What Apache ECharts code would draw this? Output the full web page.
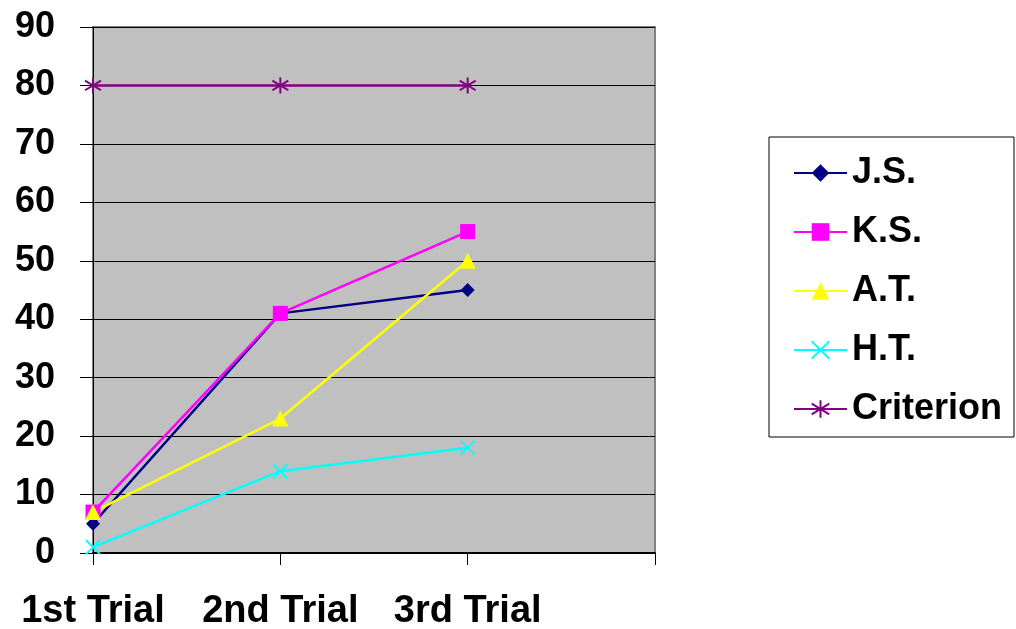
<!DOCTYPE html>
<html>
<head>
<meta charset="utf-8">
<script src="https://cdn.jsdelivr.net/npm/echarts@6/dist/echarts.min.js"></script>
<style>
  html, body { margin: 0; padding: 0; background: #fff; }
  #chart { width: 1016px; height: 629px; }
</style>
</head>
<body>
<div id="chart"></div>
<script>
// trials; the 4th slot is empty, it only carries the last tick
const trials = ["1st Trial", "2nd Trial", "3rd Trial", ""];
const yTicks = { min: 0, max: 90, step: 10 };

const js = [5, 41, 45];
const ks = [7, 41, 55];
const at = [7, 23, 50];
const ht = [1, 14, 18];
const criterion = [80, 80, 80];

const FONT = '"Liberation Sans", Arial, sans-serif';

const chart = echarts.init(document.getElementById("chart"));

function lineSeries(name, data, color, symbol, size, stroked) {
  return {
    name,
    type: "line",
    data,
    symbol,
    symbolSize: size,
    showSymbol: true,
    lineStyle: { color, width: 2.5 },
    itemStyle: stroked
      ? { color: "none", borderColor: color, borderWidth: 2 }
      : { color, borderWidth: 0 },
    emphasis: { disabled: true },
    z: 3,
  };
}

chart.setOption({
  animation: false,
  grid: {
    left: 93, top: 27, right: 361, bottom: 76,
    outerBoundsMode: "none",
    show: true,
    backgroundColor: "#C0C0C0",
    borderColor: "#808080",
    borderWidth: 2,
  },
  xAxis: {
    type: "category",
    data: trials,
    boundaryGap: false,
    axisLine: { lineStyle: { color: "#000", width: 2 } },
    axisTick: { show: true, length: 12, interval: 0, lineStyle: { color: "#000" } },
    axisLabel: {
      interval: 0, margin: 40, fontSize: 38, fontWeight: "bold",
      fontFamily: FONT, color: "#000", lineHeight: 38,
    },
    splitLine: { show: false },
  },
  yAxis: {
    type: "value",
    min: yTicks.min, max: yTicks.max, interval: yTicks.step,
    axisLine: { show: true, lineStyle: { color: "#000", width: 1 } },
    axisTick: { show: true, length: 13, lineStyle: { color: "#000" } },
    axisLabel: {
      margin: 38, fontSize: 36, fontWeight: "bold",
      fontFamily: FONT, color: "#000", padding: [4, 0, 0, 0],
    },
    splitLine: { show: true, lineStyle: { color: "#000", width: 1 } },
  },
  legend: {
    orient: "vertical",
    left: 769, top: 137,
    padding: [18, 12, 10, 24],
    itemGap: 23,
    itemWidth: 53,
    itemHeight: 22,
    backgroundColor: "#fff",
    borderColor: "#000",
    borderWidth: 1,
    textStyle: {
      fontSize: 36, fontWeight: "bold", fontFamily: FONT,
      color: "#000",
    },
  },
  series: [
    lineSeries("J.S.", js, "#000080", "diamond", 14),
    lineSeries("K.S.", ks, "#FF00FF", "rect", 15),
    lineSeries("A.T.", at, "#FFFF00", "triangle", 16),
    lineSeries("H.T.", ht, "#00FFFF", "path://M0,0L10,10M10,0L0,10", 14, true),
    lineSeries("Criterion", criterion, "#800080",
      "path://M5,0L5,10M0,2L10,8M0,8L10,2", 16, true),
  ],
});
</script>
</body>
</html>
